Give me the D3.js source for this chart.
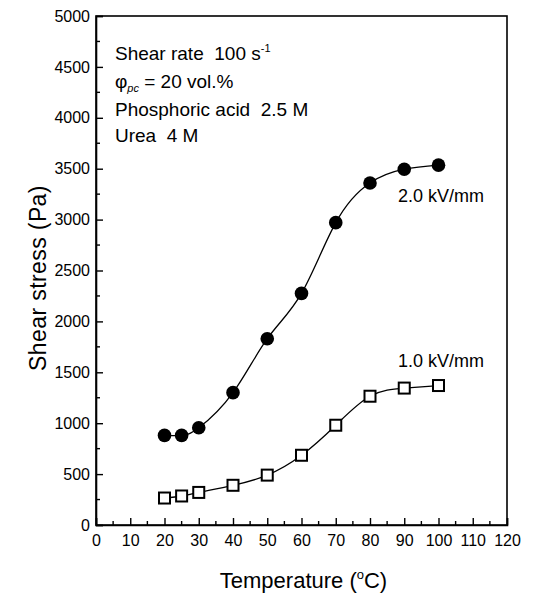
<!doctype html>
<html>
<head>
<script src="https://cdnjs.cloudflare.com/ajax/libs/d3/7.8.5/d3.min.js"></script>
<style>
body { margin: 0; background: #fff; }
svg text { font-family: "Liberation Sans", Arial, sans-serif; fill: #000; }
</style>
</head>
<body>
<svg id="chart" width="538" height="595"></svg>
<script>
// temperature (C) and shear stress (Pa)
var temps = [20, 25, 30, 40, 50, 60, 70, 80, 90, 100];
var stressHigh = [880, 880, 955, 1300, 1830, 2275, 2970, 3360, 3495, 3535];   // 2.0 kV/mm
var stressLow = [265, 285, 320, 390, 490, 685, 980, 1265, 1345, 1370];        // 1.0 kV/mm
var xTicks = [0, 10, 20, 30, 40, 50, 60, 70, 80, 90, 100, 110, 120];
var yTicks = [0, 500, 1000, 1500, 2000, 2500, 3000, 3500, 4000, 4500, 5000];

(function() {
var svg = d3.select("#chart");
var pl = 96, pr = 507, pt = 16, pb = 525;

var x = d3.scaleLinear().domain([0, 120]).range([pl, pr]);
var y = d3.scaleLinear().domain([0, 5000]).range([pb, pt]);

// frame
svg.append("rect")
  .attr("x", pl).attr("y", pt)
  .attr("width", pr - pl).attr("height", pb - pt)
  .attr("fill", "none").attr("stroke", "#000").attr("stroke-width", 1.6);

// inward ticks, minor ones in between
var xAxis = d3.axisBottom(x).tickValues(xTicks).tickFormat(d3.format("d")).tickSize(-7).tickPadding(10);
var yAxis = d3.axisLeft(y).tickValues(yTicks).tickFormat(d3.format("d")).tickSize(-7).tickPadding(6);

var gx = svg.append("g").attr("transform", "translate(0," + pb + ")").call(xAxis);
var gy = svg.append("g").attr("transform", "translate(" + pl + ",0)").call(yAxis);
[gx, gy].forEach(function(g) {
  g.select(".domain").attr("stroke-width", 1.6);
  g.selectAll(".tick line").attr("stroke-width", 1.4);
  g.selectAll("text").style("font-size", "16px").style("font-family", "Liberation Sans, Arial, sans-serif");
});

svg.append("g").selectAll("line")
  .data(d3.range(5, 120, 10))
  .enter().append("line")
  .attr("x1", function(d) { return x(d); }).attr("x2", function(d) { return x(d); })
  .attr("y1", pb).attr("y2", pb - 4)
  .attr("stroke", "#000").attr("stroke-width", 1.4);

svg.append("g").selectAll("line")
  .data(d3.range(250, 5000, 500))
  .enter().append("line")
  .attr("x1", pl).attr("x2", pl + 4)
  .attr("y1", function(d) { return y(d); }).attr("y2", function(d) { return y(d); })
  .attr("stroke", "#000").attr("stroke-width", 1.4);

// fitted curves
var line = d3.line()
  .x(function(d) { return x(d[0]); })
  .y(function(d) { return y(d[1]); })
  .curve(d3.curveNatural);

var high = temps.map(function(t, i) { return [t, stressHigh[i]]; });
var low = temps.map(function(t, i) { return [t, stressLow[i]]; });

svg.append("path").attr("d", line(high))
  .attr("fill", "none").attr("stroke", "#000").attr("stroke-width", 1.3);
svg.append("path").attr("d", line(low))
  .attr("fill", "none").attr("stroke", "#000").attr("stroke-width", 1.3);

svg.append("g").selectAll("circle")
  .data(high)
  .enter().append("circle")
  .attr("cx", function(d) { return x(d[0]); })
  .attr("cy", function(d) { return y(d[1]); })
  .attr("r", 6.8)
  .attr("fill", "#000");

svg.append("g").selectAll("rect")
  .data(low)
  .enter().append("rect")
  .attr("x", function(d) { return x(d[0]) - 5.5; })
  .attr("y", function(d) { return y(d[1]) - 5.5; })
  .attr("width", 11).attr("height", 11)
  .attr("fill", "#fff").attr("stroke", "#000").attr("stroke-width", 2);

// series labels
svg.append("text").attr("x", 398).attr("y", 202).style("font-size", "18px").text("2.0 kV/mm");
svg.append("text").attr("x", 398).attr("y", 367).style("font-size", "18px").text("1.0 kV/mm");

// conditions
var note = svg.append("g").style("font-size", "19px");
var t1 = note.append("text").attr("x", 115).attr("y", 60);
t1.append("tspan").text("Shear rate\u00a0\u00a0100 s");
t1.append("tspan").attr("dy", -8).style("font-size", "11px").text("-1");

var t2 = note.append("text").attr("x", 115).attr("y", 88);
t2.append("tspan").text("\u03c6");
t2.append("tspan").attr("dy", 4).style("font-size", "11px").style("font-style", "italic").text("pc");
t2.append("tspan").attr("dy", -4).text(" = 20 vol.%");

note.append("text").attr("x", 115).attr("y", 116).text("Phosphoric acid\u00a0\u00a02.5 M");
note.append("text").attr("x", 115).attr("y", 142).text("Urea\u00a0\u00a04 M");

// axis titles
var xt = svg.append("text")
  .attr("x", (pl + pr) / 2 + 2).attr("y", 588)
  .attr("text-anchor", "middle").style("font-size", "22px");
xt.append("tspan").text("Temperature (");
xt.append("tspan").attr("dy", -9).style("font-size", "13px").text("o");
xt.append("tspan").attr("dy", 9).text("C)");

svg.append("text")
  .attr("transform", "translate(46,278) rotate(-90)")
  .attr("text-anchor", "middle").style("font-size", "23px")
  .style("letter-spacing", "0.4px")
  .text("Shear stress (Pa)");
})();
</script>
</body>
</html>
